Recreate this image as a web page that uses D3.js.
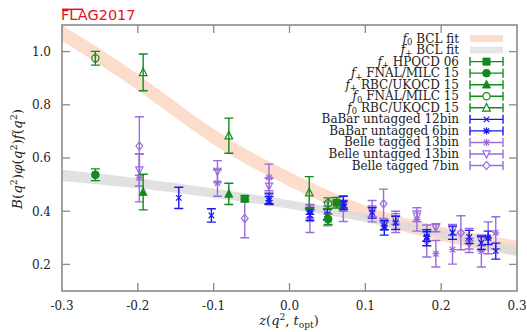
<!DOCTYPE html>
<html>
<head>
<meta charset="utf-8">
<script src="https://cdn.jsdelivr.net/npm/d3@7"></script>
<style>
  html, body { margin: 0; padding: 0; background: #fff; }
  svg { display: block; }
</style>
</head>
<body>
<svg id="chart" width="527" height="332"></svg>
<script>
// ---- axis ticks ----
const xTicks = [-0.3, -0.2, -0.1, 0.0, 0.1, 0.2, 0.3];
const xTickLabels = ["-0.3", "-0.2", "-0.1", "0.0", "0.1", "0.2", "0.3"];
const yTicks = [0.2, 0.4, 0.6, 0.8, 1.0];
const yTickLabels = ["0.2", "0.4", "0.6", "0.8", "1.0"];

// ---- BCL fit bands (centre and half-width at knots in z) ----
const bandZ    = [-0.3, -0.2, -0.1, 0.0, 0.1, 0.2, 0.3];
const f0Centre = [1.070, 0.885, 0.680, 0.520, 0.395, 0.315, 0.260];
const f0Half   = [0.029, 0.030, 0.029, 0.027, 0.026, 0.027, 0.029];
const fpCentre = [0.535, 0.505, 0.468, 0.425, 0.375, 0.315, 0.250];
const fpHalf   = [0.021, 0.019, 0.017, 0.016, 0.016, 0.016, 0.018];

// ---- lattice QCD points ----
const hpqcdZ = [-0.059, 0.062];
const hpqcdVal = [0.447, 0.432];
const hpqcdErr = [0.011, 0.020];

const fnalPlusZ = [-0.256, 0.051];
const fnalPlusVal = [0.537, 0.370];
const fnalPlusErr = [0.022, 0.020];

const rbcPlusZ = [-0.193, -0.080];
const rbcPlusVal = [0.472, 0.465];
const rbcPlusErr = [0.067, 0.040];

const fnalZeroZ = [-0.256, 0.051];
const fnalZeroVal = [0.975, 0.430];
const fnalZeroErr = [0.026, 0.020];

const rbcZeroZ = [-0.193, -0.080, 0.026];
const rbcZeroVal = [0.922, 0.684, 0.470];
const rbcZeroErr = [0.069, 0.066, 0.060];

// ---- experimental points ----
const babar12Z   = [-0.146, -0.103, -0.027, 0.027, 0.050, 0.071, 0.109, 0.125, 0.140, 0.181, 0.215, 0.237, 0.253, 0.272];
const babar12Val = [0.450, 0.384, 0.448, 0.385, 0.388, 0.431, 0.394, 0.338, 0.356, 0.300, 0.319, 0.303, 0.281, 0.250];
const babar12Err = [0.040, 0.025, 0.020, 0.020, 0.020, 0.025, 0.020, 0.028, 0.025, 0.030, 0.025, 0.025, 0.025, 0.030];

const babar6Z   = [-0.027, 0.027, 0.071, 0.125, 0.181, 0.262];
const babar6Val = [0.440, 0.400, 0.425, 0.345, 0.305, 0.300];
const babar6Err = [0.015, 0.012, 0.013, 0.015, 0.018, 0.025];

const belleT13Z   = [-0.198, -0.095, -0.027, 0.027, 0.050, 0.071, 0.109, 0.140, 0.168, 0.193, 0.215, 0.237, 0.253, 0.272];
const belleT13Val = [0.525, 0.506, 0.527, 0.370, 0.390, 0.409, 0.400, 0.360, 0.369, 0.240, 0.256, 0.290, 0.250, 0.319];
const belleT13Err = [0.090, 0.050, 0.050, 0.050, 0.045, 0.048, 0.040, 0.040, 0.044, 0.050, 0.055, 0.045, 0.060, 0.060];

const belleU13Z   = [-0.198, -0.095, -0.027, 0.027, 0.050, 0.071, 0.109, 0.140, 0.168, 0.193, 0.215, 0.237, 0.253];
const belleU13Val = [0.555, 0.550, 0.494, 0.400, 0.394, 0.420, 0.400, 0.371, 0.381, 0.338, 0.330, 0.278, 0.290];
const belleU13Err = [0.060, 0.040, 0.030, 0.025, 0.025, 0.020, 0.020, 0.020, 0.020, 0.015, 0.020, 0.020, 0.020];

const belleT7Z   = [-0.198, -0.059, 0.124, 0.181, 0.226, 0.262];
const belleT7Val = [0.645, 0.373, 0.428, 0.288, 0.319, 0.300];
const belleT7Err = [0.110, 0.073, 0.055, 0.060, 0.064, 0.060];

// ---- colours ----
const GREEN = "#118c1a";
const BLUE = "#1a1aee";
const PURPLE = "#9a6cdc";
const SALMON = "#fcdccb";
const GREY = "#d9d9d9";

// ---- layout ----
const svg = d3.select("#chart");
const plotLeft = 62, plotRight = 517, plotTop = 25, plotBottom = 291;
const x = d3.scaleLinear().domain([-0.3, 0.3]).range([plotLeft, plotRight]);
const y = d3.scaleLinear().domain([0.1, 1.1]).range([plotBottom, plotTop]);
const serif = "'DejaVu Serif', serif";

svg.append("defs").append("clipPath").attr("id", "plotClip")
  .append("rect").attr("x", plotLeft).attr("y", plotTop)
  .attr("width", plotRight - plotLeft).attr("height", plotBottom - plotTop);

// ---- bands ----
function bandData(centre, half) {
  return bandZ.map((z, i) => ({ z: z, c: centre[i], h: half[i] }));
}
const band = d3.area()
  .x(d => x(d.z))
  .y0(d => y(d.c - d.h))
  .y1(d => y(d.c + d.h))
  .curve(d3.curveNatural);

const plot = svg.append("g").attr("clip-path", "url(#plotClip)");
plot.append("path").datum(bandData(f0Centre, f0Half))
  .attr("d", band).attr("fill", SALMON);
plot.append("path").datum(bandData(fpCentre, fpHalf))
  .attr("d", band).attr("fill", GREY).attr("fill-opacity", 0.8);

// ---- markers ----
function markerPath(type, s) {
  switch (type) {
    case "square": return `M${-s},${-s}h${2*s}v${2*s}h${-2*s}Z`;
    case "circle": return `M${-s},0a${s},${s} 0 1,0 ${2*s},0a${s},${s} 0 1,0 ${-2*s},0Z`;
    case "triUp": return `M0,${-1.15*s}L${s},${0.85*s}L${-s},${0.85*s}Z`;
    case "triDown": return `M0,${1.15*s}L${s},${-0.85*s}L${-s},${-0.85*s}Z`;
    case "diamond": return `M0,${-1.2*s}L${s},0L0,${1.2*s}L${-s},0Z`;
    case "cross": return `M${-s},${-s}L${s},${s}M${-s},${s}L${s},${-s}`;
    case "star": return `M${-s},${-s}L${s},${s}M${-s},${s}L${s},${-s}M${-1.3*s},0H${1.3*s}M0,${-1.3*s}V${1.3*s}`;
  }
}

const series = [
  { label: "f_0 BCL fit", band: SALMON },
  { label: "f_+ BCL fit", band: "#e6e6e6" },
  { label: "f_+ HPQCD 06", color: GREEN, marker: "square", fill: true, size: 3.6, z: hpqcdZ, v: hpqcdVal, e: hpqcdErr },
  { label: "f_+ FNAL/MILC 15", color: GREEN, marker: "circle", fill: true, size: 3.9, z: fnalPlusZ, v: fnalPlusVal, e: fnalPlusErr },
  { label: "f_+ RBC/UKQCD 15", color: GREEN, marker: "triUp", fill: true, size: 4, z: rbcPlusZ, v: rbcPlusVal, e: rbcPlusErr },
  { label: "f_0 FNAL/MILC 15", color: GREEN, marker: "circle", fill: false, size: 3.6, z: fnalZeroZ, v: fnalZeroVal, e: fnalZeroErr },
  { label: "f_0 RBC/UKQCD 15", color: GREEN, marker: "triUp", fill: false, size: 3.8, z: rbcZeroZ, v: rbcZeroVal, e: rbcZeroErr },
  { label: "BaBar untagged 12bin", color: BLUE, marker: "cross", fill: false, size: 2.8, z: babar12Z, v: babar12Val, e: babar12Err },
  { label: "BaBar untagged 6bin", color: BLUE, marker: "star", fill: false, size: 2.8, z: babar6Z, v: babar6Val, e: babar6Err },
  { label: "Belle tagged 13bin", color: PURPLE, marker: "star", fill: false, size: 2.8, z: belleT13Z, v: belleT13Val, e: belleT13Err },
  { label: "Belle untagged 13bin", color: PURPLE, marker: "triDown", fill: false, size: 3.6, z: belleU13Z, v: belleU13Val, e: belleU13Err },
  { label: "Belle tagged 7bin", color: PURPLE, marker: "diamond", fill: false, size: 3.4, z: belleT7Z, v: belleT7Val, e: belleT7Err }
];

// draw order: Belle, BaBar, then lattice on top
const drawOrder = [9, 10, 11, 7, 8, 2, 3, 4, 5, 6];
const cap = 4.5;
const pts = svg.append("g");
drawOrder.forEach(idx => {
  const s = series[idx];
  const g = pts.append("g").attr("stroke", s.color).attr("stroke-width", 1.4).attr("fill", "none");
  s.z.forEach((z, i) => {
    const px = x(z), lo = y(s.v[i] - s.e[i]), hi = y(s.v[i] + s.e[i]);
    g.append("path")
      .attr("d", `M${px},${lo}V${hi}M${px - cap},${lo}H${px + cap}M${px - cap},${hi}H${px + cap}`);
    g.append("path")
      .attr("transform", `translate(${px},${y(s.v[i])})`)
      .attr("d", markerPath(s.marker, s.size))
      .attr("fill", s.fill ? s.color : "none")
      .attr("stroke-width", s.fill ? 0.8 : 1.2);
  });
});

// ---- frame and ticks ----
const axisColor = "#8a8a8a";
const axes = svg.append("g");
axes.append("rect").attr("x", plotLeft).attr("y", plotTop)
  .attr("width", plotRight - plotLeft).attr("height", plotBottom - plotTop)
  .attr("fill", "none").attr("stroke", axisColor).attr("stroke-width", 1.6);

const tickLen = 8;
xTicks.forEach((t, i) => {
  const px = x(t);
  if (i > 0 && i < xTicks.length - 1) {
    axes.append("line").attr("x1", px).attr("x2", px).attr("y1", plotBottom).attr("y2", plotBottom - tickLen)
      .attr("stroke", axisColor).attr("stroke-width", 1.3);
    axes.append("line").attr("x1", px).attr("x2", px).attr("y1", plotTop).attr("y2", plotTop + tickLen)
      .attr("stroke", axisColor).attr("stroke-width", 1.3);
  }
  axes.append("text").attr("x", px).attr("y", plotBottom + 19)
    .attr("text-anchor", "middle").attr("font-family", serif).attr("font-size", 12)
    .attr("fill", "#222").text(xTickLabels[i]);
});
yTicks.forEach((t, i) => {
  const py = y(t);
  axes.append("line").attr("x1", plotLeft).attr("x2", plotLeft + tickLen).attr("y1", py).attr("y2", py)
    .attr("stroke", axisColor).attr("stroke-width", 1.3);
  axes.append("line").attr("x1", plotRight).attr("x2", plotRight - tickLen).attr("y1", py).attr("y2", py)
    .attr("stroke", axisColor).attr("stroke-width", 1.3);
  axes.append("text").attr("x", plotLeft - 11).attr("y", py + 4.3)
    .attr("text-anchor", "end").attr("font-family", serif).attr("font-size", 12)
    .attr("fill", "#222").text(yTickLabels[i]);
});

// ---- axis titles (inline math via shifted tspans) ----
function mathText(sel, parts, shift) {
  let offset = 0;
  parts.forEach(p => {
    const target = p.sup ? -shift : p.sub ? shift * 0.6 : 0;
    const t = sel.append("tspan").attr("dy", target - offset).text(p.t);
    offset = target;
    if (p.i) t.attr("font-style", "italic");
    if (p.sup || p.sub) t.attr("font-size", "70%");
  });
}
const xTitle = svg.append("text").attr("x", 289).attr("y", 325)
  .attr("text-anchor", "middle").attr("font-family", serif).attr("font-size", 13).attr("fill", "#222");
mathText(xTitle, [{ t: "z", i: 1 }, { t: "(" }, { t: "q", i: 1 }, { t: "2", sup: 1 }, { t: ", " },
  { t: "t", i: 1 }, { t: "opt", sub: 1 }, { t: ")" }], 5);

const yTitle = svg.append("text").attr("transform", `translate(22,${(plotTop + plotBottom) / 2 + 1}) rotate(-90)`)
  .attr("text-anchor", "middle").attr("font-family", serif).attr("font-size", 13.5).attr("fill", "#222");
mathText(yTitle, [{ t: "B", i: 1 }, { t: "(" }, { t: "q", i: 1 }, { t: "2", sup: 1 }, { t: ")" },
  { t: "φ", i: 1 }, { t: "(" }, { t: "q", i: 1 }, { t: "2", sup: 1 }, { t: ")" },
  { t: "f", i: 1 }, { t: "(" }, { t: "q", i: 1 }, { t: "2", sup: 1 }, { t: ")" }], 5);

// ---- legend ----
const legX = 459, symL = 470, symR = 503, legY0 = 38.5, legDy = 11.55;
const leg = svg.append("g");
series.forEach((s, i) => {
  const cy = legY0 + i * legDy;
  const txt = leg.append("text").attr("x", legX).attr("y", cy + 4)
    .attr("text-anchor", "end").attr("font-family", serif).attr("font-size", 12).attr("fill", "#222");
  const m = s.label.match(/^f_(0|\+) (.*)$/);
  if (m) {
    mathText(txt, [{ t: "f", i: 1 }, { t: m[1], sub: 1 }, { t: " " + m[2] }], 4);
  } else {
    txt.text(s.label);
  }
  if (s.band) {
    leg.append("rect").attr("x", symL).attr("y", cy - 3.5).attr("width", symR - symL).attr("height", 7)
      .attr("fill", s.band);
  } else {
    const mid = (symL + symR) / 2;
    const g = leg.append("g").attr("stroke", s.color).attr("stroke-width", 1.4).attr("fill", "none");
    g.append("path").attr("d", `M${symL},${cy}H${symR}M${symL},${cy - cap}V${cy + cap}M${symR},${cy - cap}V${cy + cap}`);
    g.append("path").attr("transform", `translate(${mid},${cy})`)
      .attr("d", markerPath(s.marker, s.size))
      .attr("fill", s.fill ? s.color : "#fff")
      .attr("stroke-width", s.fill ? 0.8 : 1.2);
  }
});

// ---- FLAG logo ----
const logo = svg.append("g");
logo.append("text").attr("x", 61).attr("y", 20)
  .attr("font-family", "'DejaVu Sans', sans-serif").attr("font-size", 14.5)
  .attr("fill", "#e8101a").text("FLAG2017");
logo.append("line").attr("x1", 62).attr("x2", 83).attr("y1", 9.3).attr("y2", 9.3)
  .attr("stroke", "#e8101a").attr("stroke-width", 1.5);
</script>
</body>
</html>
